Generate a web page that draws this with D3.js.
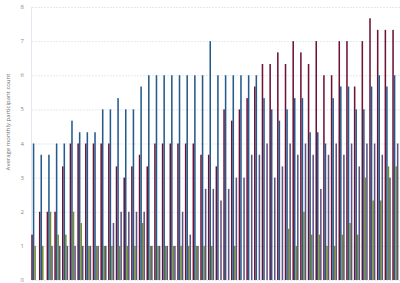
<!DOCTYPE html>
<html>
<head>
<meta charset="utf-8">
<script src="https://cdn.jsdelivr.net/npm/d3@7"></script>
<style>
  body { margin: 0; background: #fff; }
  text { font-family: "Open Sans", "DejaVu Sans", sans-serif; }
</style>
</head>
<body>
<div id="chart"></div>
<script>
// one entry per group, 48 groups
const groups = d3.range(48).map(i => "G" + (i + 1));
const seriesNames = ["A", "B", "C", "D"];
const seriesColors = ["#6e1236", "#245a8c", "#6f8c2f", "#5f5280"];

const valuesA = [1.33, 2, 2, 2, 3.33, 4, 4, 4, 4, 4, 4, 3.33, 3, 3.33, 3.67, 3.33,
  4, 4, 4, 4, 4, 4, 3.67, 3.67, 3.33, 5, 4.67, 5, 5.33, 5.67, 6.33, 6.33,
  6.67, 6.33, 7, 6.67, 6.33, 7, 6, 6, 7, 7, 5.67, 7, 7.67, 7.33, 7.33, 7.33];
const valuesB = [4, 3.67, 3.67, 4, 4, 4.67, 4.33, 4.33, 4.33, 5, 5, 5.33, 5, 5, 5.67, 6,
  6, 6, 6, 6, 6, 6, 6, 7, 6, 6, 6, 6, 6, 6, 5.33, 5,
  4.67, 5, 5.33, 5.33, 4.33, 4.33, 4, 5.33, 5.67, 5.67, 5, 5, 5.67, 6, 5.67, 6];
const valuesC = [1, 1, 2, 1.33, 1.33, 2, 1.67, 1, 1, 1, 1, 1, 1, 1, 1.67, 1,
  1, 1, 1, 1, 1, 1, 1, 1, 0, 0, 1, 0, 0, 0, 0, 0,
  0, 1.5, 1, 2, 1.33, 1.33, 1, 1, 1.33, 1.67, 1.33, 3, 2.33, 2.33, 3.33, 3.33];
const valuesD = [0, 0, 1, 1, 1, 1, 1, 1, 1, 1, 1.67, 2, 2, 2, 2, 1,
  1, 1, 1, 2, 1.33, 1, 2.67, 2.67, 2.33, 2.67, 3, 3, 3.67, 3.67, 4, 3,
  3.33, 4, 3.67, 4, 3.67, 2.67, 3.67, 4, 3.67, 4, 3.33, 4, 4, 3.67, 3, 4];
const yTicks = [0, 1, 2, 3, 4, 5, 6, 7, 8];

const allValues = [valuesA, valuesB, valuesC, valuesD];

const width = 400, height = 283;

const svg = d3.select("#chart").append("svg")
    .attr("width", width)
    .attr("height", height);

const x0 = d3.scaleBand()
    .domain(groups)
    .range([30.5, 399.2])
    .paddingInner(0.2)
    .paddingOuter(0.1);

const x1 = d3.scaleBand()
    .domain(seriesNames)
    .range([0, x0.bandwidth()]);

const y = d3.scaleLinear()
    .domain([0, 8])
    .range([280, 7]);

// gridlines
svg.append("g")
    .selectAll("line")
    .data(yTicks)
    .join("line")
    .attr("x1", 32)
    .attr("x2", 400)
    .attr("y1", d => y(d) + 0.5)
    .attr("y2", d => y(d) + 0.5)
    .attr("stroke", "#e4e9f1")
    .attr("stroke-dasharray", "2,1");

// y axis line
svg.append("line")
    .attr("x1", 31.5).attr("x2", 31.5)
    .attr("y1", y(8)).attr("y2", y(0))
    .attr("stroke", "#e4e9f1");

// tick labels
svg.append("g")
    .selectAll("text")
    .data(yTicks)
    .join("text")
    .attr("x", 24)
    .attr("y", d => y(d))
    .attr("dy", "0.35em")
    .attr("text-anchor", "end")
    .attr("font-size", 6)
    .attr("fill", "#8a8a8a")
    .text(d => d);

// axis title
svg.append("text")
    .attr("transform", "translate(10,122) rotate(-90)")
    .attr("text-anchor", "middle")
    .attr("font-size", 6)
    .attr("fill", "#707070")
    .text("Average monthly participant count");

// bars
const rows = groups.map((g, i) => ({
    group: g,
    bars: seriesNames.map((s, k) => ({ series: s, value: allValues[k][i], color: seriesColors[k] }))
}));

svg.append("g")
    .selectAll("g")
    .data(rows)
    .join("g")
    .attr("transform", d => "translate(" + x0(d.group) + ",0)")
    .selectAll("rect")
    .data(d => d.bars)
    .join("rect")
    .attr("x", d => x1(d.series))
    .attr("width", x1.bandwidth())
    .attr("y", d => y(d.value))
    .attr("height", d => y(0) - y(d.value))
    .attr("fill", d => d.color);
</script>
</body>
</html>
